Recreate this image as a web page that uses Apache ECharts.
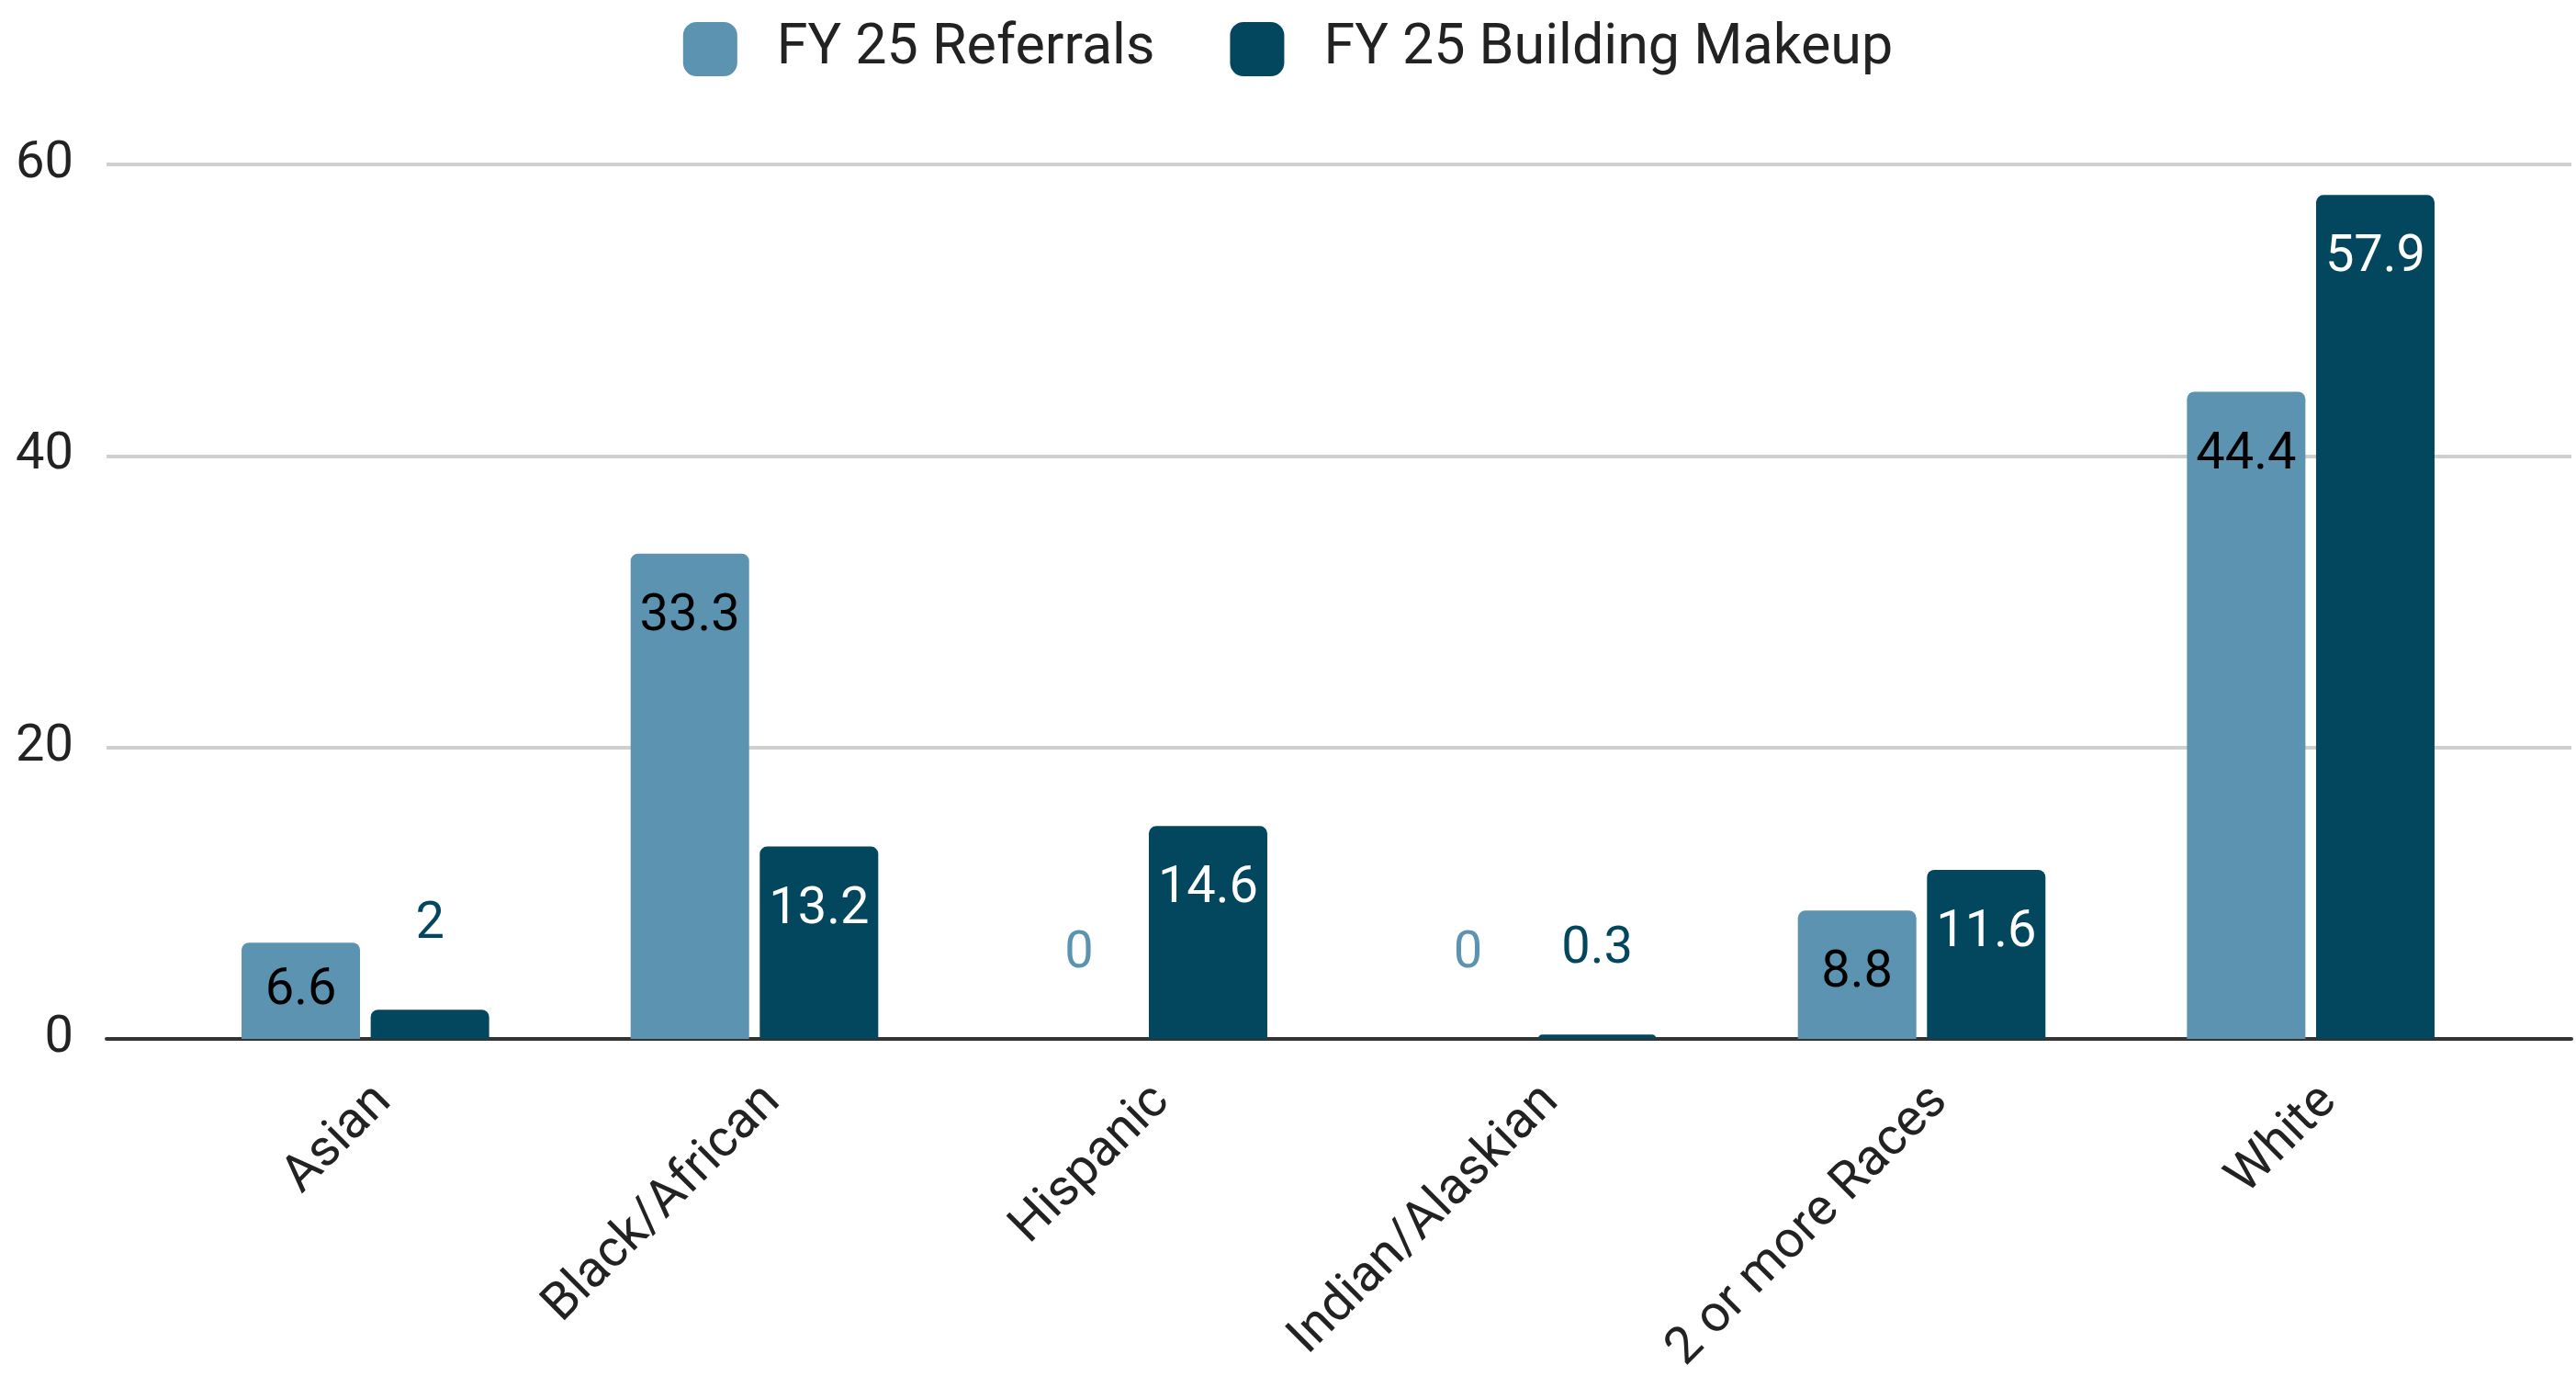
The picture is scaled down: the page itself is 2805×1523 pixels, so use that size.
<!DOCTYPE html>
<html>
<head>
<meta charset="utf-8">
<script src="https://cdn.jsdelivr.net/npm/echarts@6/dist/echarts.min.js"></script>
<style>
  html, body { margin: 0; padding: 0; background: #ffffff; }
  #chart { width: 2805px; height: 1523px; }
</style>
</head>
<body>
<div id="chart"></div>
<script>
  // Data
  const categories = ['Asian', 'Black/African', 'Hispanic', 'Indian/Alaskian', '2 or more Races', 'White'];
  const referrals = [6.6, 33.3, 0, 0, 8.8, 44.4];
  const buildingMakeup = [2, 13.2, 14.6, 0.3, 11.6, 57.9];
  const yTicks = [0, 20, 40, 60];

  const THEME = {
    light: '#5b93b0',
    dark: '#03475f',
    grid: '#cfcfcf',
    axis: '#333333',
    text: '#222222',
    font: 'Roboto, "Noto Sans", sans-serif',
  };

  // labels go inside the bar top, centred in short bars, above tiny ones
  function withLabels(values, barColor, insideColor) {
    return values.map(v => {
      let label;
      if (v < 4) {
        label = { position: 'top', distance: 64, color: barColor };
      } else if (v < 8) {
        label = { position: 'inside', color: insideColor };
      } else {
        label = { position: 'insideTop', distance: 41, color: insideColor };
      }
      return { value: v, label };
    });
  }

  const chart = echarts.init(document.getElementById('chart'));

  const option = {
    backgroundColor: '#ffffff',
    textStyle: { fontFamily: THEME.font },
    legend: {
      top: 18,
      left: 'center',
      icon: 'roundRect',
      itemWidth: 59,
      itemHeight: 59,
      itemGap: 82,
      textStyle: {
        fontFamily: THEME.font,
        fontSize: 61,
        color: THEME.text,
        padding: [0, 0, 0, 38],
      },
      data: ['FY 25 Referrals', 'FY 25 Building Makeup'],
    },
    grid: [
      // background grid: gridlines and zero line span full width
      { left: 116, right: 5, top: 179, bottom: 392, containLabel: false },
      // bar grid, inset like the original plot area
      { left: 186, right: 77, top: 179, bottom: 392, containLabel: false },
    ],
    xAxis: [
      {
        gridIndex: 0,
        type: 'value',
        min: 0,
        max: 1,
        axisLine: { show: true, onZero: true, lineStyle: { color: THEME.axis, width: 4 } },
        axisTick: { show: false },
        axisLabel: { show: false },
        splitLine: { show: false },
      },
      {
        gridIndex: 1,
        type: 'category',
        data: categories,
        axisLine: { show: false },
        axisTick: { show: false },
        axisLabel: {
          rotate: 45,
          margin: 40,
          interval: 0,
          verticalAlign: 'top',
          fontFamily: THEME.font,
          fontSize: 56,
          color: THEME.text,
        },
      },
    ],
    yAxis: [
      {
        gridIndex: 0,
        type: 'value',
        min: yTicks[0],
        max: yTicks[yTicks.length - 1],
        interval: 20,
        axisLine: { show: false },
        axisTick: { show: false },
        axisLabel: {
          margin: 36,
          fontFamily: THEME.font,
          fontSize: 56,
          color: THEME.text,
        },
        splitLine: { lineStyle: { color: THEME.grid, width: 4 } },
      },
      {
        gridIndex: 1,
        type: 'value',
        min: yTicks[0],
        max: yTicks[yTicks.length - 1],
        show: false,
        splitLine: { show: false },
      },
    ],
    series: [
      {
        name: 'FY 25 Referrals',
        type: 'bar',
        xAxisIndex: 1,
        yAxisIndex: 1,
        barWidth: 129,
        barGap: '9%',
        itemStyle: { color: THEME.light, borderRadius: [8, 8, 0, 0] },
        label: { show: true, fontFamily: THEME.font, fontSize: 56 },
        data: withLabels(referrals, THEME.light, '#000000'),
      },
      {
        name: 'FY 25 Building Makeup',
        type: 'bar',
        xAxisIndex: 1,
        yAxisIndex: 1,
        barWidth: 129,
        barGap: '9%',
        itemStyle: { color: THEME.dark, borderRadius: [8, 8, 0, 0] },
        label: { show: true, fontFamily: THEME.font, fontSize: 56 },
        data: withLabels(buildingMakeup, THEME.dark, '#ffffff'),
      },
    ],
  };

  chart.setOption(option);
</script>
</body>
</html>
